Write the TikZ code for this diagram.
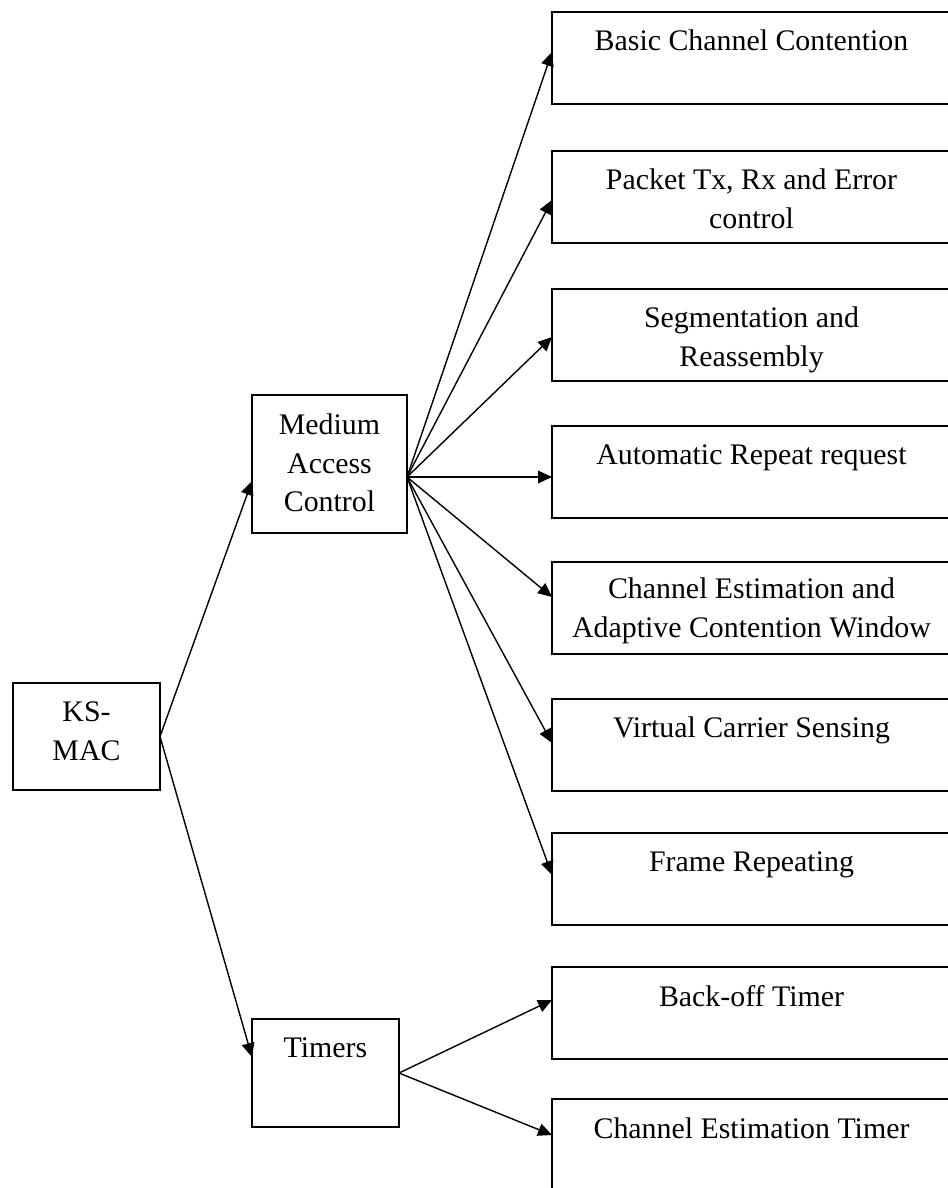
\documentclass[tikz,border=0pt]{standalone}
\usepackage{fontspec}
\setmainfont{Liberation Serif}
\usetikzlibrary{arrows.meta,calc}

\begin{document}
\begin{tikzpicture}[x=0.75pt,y=-0.75pt,
  box/.style={draw=black,line width=1.1pt,rectangle,inner sep=0pt,outer sep=0pt},
  leafbox/.style={box,minimum width=299.25pt,minimum height=69pt},
  lbl/.style={inner sep=0pt,align=center,font=\fontsize{22.4}{29}\selectfont},
  toplbl/.style={lbl,anchor=north},
  link/.style={line width=1.05pt,-{Triangle[length=10.5pt,width=9.5pt]}}
]
\useasboundingbox (0,0) rectangle (947,1188);

% root and second level
\node[box,minimum width=110.25pt,minimum height=80.25pt] (ks) at (86.5,736.5) {};
\node[lbl] (kst) at (86.5,731) {KS-\\MAC};

\node[box,minimum width=116.25pt,minimum height=103.5pt] (mac) at (329.5,464) {};
\node[lbl] (mact) at (329.5,463) {Medium\\Access\\Control};

\node[box,minimum width=110.25pt,minimum height=81pt] (tim) at (325.5,1073) {};
\node[toplbl] (timt) at (325.5,1037) {Timers};

% leaf boxes (right column)
\foreach \n/\t in {b1/12,b2/151,b3/289,b4/426,b5/562,b6/699,b7/833,b8/967,b9/1099}{
  \node[leafbox] (\n) at (751.5,\t+46) {};
}
\node[toplbl] (t1) at (751.5,12+18)   {Basic Channel Contention};
\node[toplbl] (t2) at (751.5,151+18)  {Packet Tx, Rx and Error\\control};
\node[toplbl] (t3) at (751.5,289+18)  {Segmentation and\\Reassembly};
\node[toplbl] (t4) at (751.5,426+18)  {Automatic Repeat request};
\node[toplbl] (t5) at (751.5,562+16)  {Channel Estimation and\\Adaptive Contention Window};
\node[toplbl] (t6) at (751.5,699+18)  {Virtual Carrier Sensing};
\node[toplbl] (t7) at (751.5,833+18)  {Frame Repeating};
\node[toplbl] (t8) at (751.5,967+18)  {Back-off Timer};
\node[toplbl] (t9) at (751.5,1099+18) {Channel Estimation Timer};

% fan-out point on the MAC box
\coordinate (hub) at ($(mac.east)+(0,13)$);

% connectors
\draw[link] (ks.east) -- ($(mac.west)+(0,17)$);
\draw[link] (ks.east) -- ($(tim.west)+(0,-16)$);

\draw[link] (hub) -- ($(b1.west)+(0,-6)$);
\draw[link] (hub) -- ($(b2.west)+(0,3)$);
\draw[link] (hub) -- ($(b3.west)+(0,2)$);
\draw[link] (hub) -- ($(b4.west)+(0,5)$);
\draw[link] (hub) -- ($(b5.west)+(0,-11)$);
\draw[link] (hub) -- ($(b6.west)+(0,-2)$);
\draw[link] (hub) -- ($(b7.west)+(0,-4)$);

\draw[link] (tim.east) -- ($(b8.west)+(0,-13)$);
\draw[link] (tim.east) -- ($(b9.west)+(0,-10)$);
\end{tikzpicture}
\end{document}
